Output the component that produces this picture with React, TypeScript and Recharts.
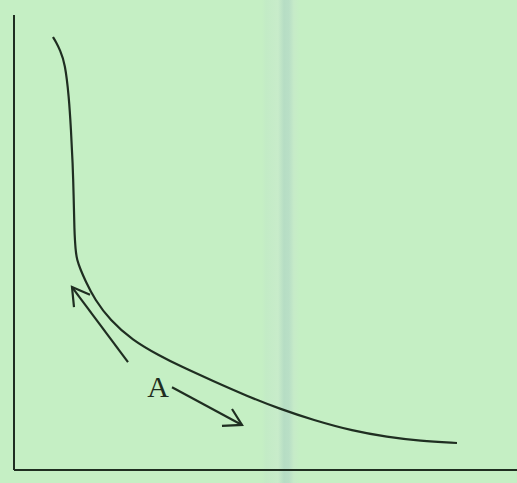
import { LineChart, Line, XAxis, YAxis, ReferenceDot } from 'recharts';

// main curve, in axis units (x 0-100, y 0-100)
const curveX = [7.75, 8.35, 9.15, 10.14, 10.93, 11.33, 11.67, 11.87, 11.99, 12.23, 12.52, 13.26, 14.12, 16.1, 19.09, 23.46, 29.03, 33.0, 39.56, 46.32, 52.88, 59.44, 67.4, 74.16, 80.72, 88.07];
const curveY = [95.16, 94.07, 92.31, 89.45, 81.98, 74.73, 67.47, 60.0, 52.75, 48.35, 46.15, 43.96, 41.76, 37.36, 32.97, 28.57, 25.05, 22.86, 19.56, 16.26, 13.41, 10.99, 8.57, 7.25, 6.37, 5.93];

// arrow pointing up the curve (shaft end, tip, barbs)
const arrowUpShaft = [[22.66, 23.7], [11.53, 40.2]];
const arrowUpHead = [[15.11, 38.5], [11.53, 40.2], [11.93, 35.8]];

// arrow pointing down the curve
const arrowDownShaft = [[31.41, 18.2], [45.33, 9.9]];
const arrowDownHead = [[41.35, 9.7], [45.33, 9.9], [43.34, 13.4]];

const labelA = { x: 28.63, y: 18.3, text: 'A' };

const ink = '#1f2e21';

const toRows = (pts: number[][]) => pts.map(([x, y]) => ({ x, y }));
const curveData = curveX.map((x, i) => ({ x, y: curveY[i] }));

export default function App() {
  return (
    <div
      style={{
        position: 'absolute',
        left: 0,
        top: 0,
        width: 517,
        height: 483,
        background:
          'linear-gradient(to right, #c5efc4 0px, #c5efc4 262px, #c3ebc6 266px, #c8ecca 278px, #b6ddc4 284px, #b9dfc6 289px, #c6ebc8 294px, #c5efc4 300px, #c5efc4 517px)',
      }}
    >
      <LineChart width={517} height={483} margin={{ top: 15, right: 0, left: 13, bottom: 12 }}>
        <XAxis
          type="number"
          dataKey="x"
          domain={[0, 100]}
          allowDataOverflow
          tick={false}
          tickLine={false}
          height={1}
          axisLine={{ stroke: ink, strokeWidth: 2 }}
        />
        <YAxis
          type="number"
          dataKey="y"
          domain={[0, 100]}
          allowDataOverflow
          tick={false}
          tickLine={false}
          width={1}
          axisLine={{ stroke: ink, strokeWidth: 2 }}
        />
        <Line data={curveData} dataKey="y" type="basis" stroke={ink} strokeWidth={2.2} dot={false} isAnimationActive={false} />
        <Line data={toRows(arrowUpShaft)} dataKey="y" type="linear" stroke={ink} strokeWidth={2.2} dot={false} isAnimationActive={false} />
        <Line data={toRows(arrowUpHead)} dataKey="y" type="linear" stroke={ink} strokeWidth={2.2} dot={false} isAnimationActive={false} />
        <Line data={toRows(arrowDownShaft)} dataKey="y" type="linear" stroke={ink} strokeWidth={2.2} dot={false} isAnimationActive={false} />
        <Line data={toRows(arrowDownHead)} dataKey="y" type="linear" stroke={ink} strokeWidth={2.2} dot={false} isAnimationActive={false} />
        <ReferenceDot
          x={labelA.x}
          y={labelA.y}
          r={0}
          fill="none"
          stroke="none"
          label={{ value: labelA.text, position: 'center', fill: ink, fontSize: 30, fontFamily: 'Liberation Serif' }}
        />
      </LineChart>
    </div>
  );
}
